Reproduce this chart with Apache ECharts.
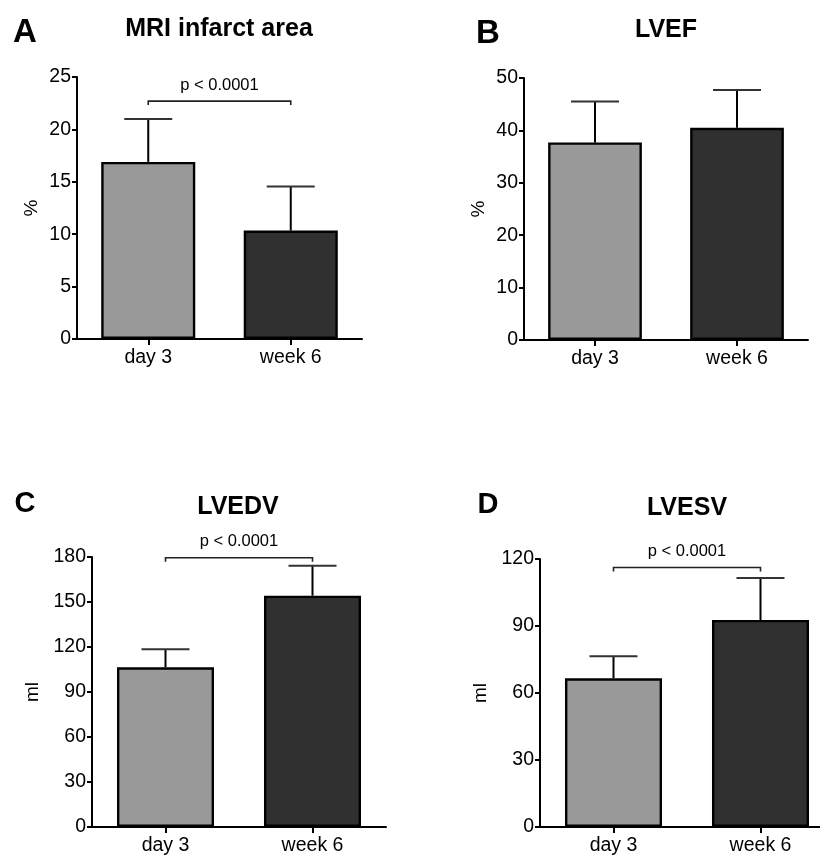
<!DOCTYPE html>
<html>
<head>
<meta charset="utf-8">
<script src="https://cdn.jsdelivr.net/npm/echarts@6/dist/echarts.min.js"></script>
<style>
  html, body { margin: 0; padding: 0; background: #fff; overflow: hidden; }
  /* a little wider than the window: panel D's axis runs off the right edge */
  #chart { width: 834px; height: 856px; }
</style>
</head>
<body>
<div id="chart"></div>
<script>
const FONT = 'Liberation Sans, Arial, Helvetica, sans-serif';

// categories and colours shared by all panels
const categories = ['day 3', 'week 6'];
const barColors = ['#999999', '#303030'];

// A: MRI infarct area (%)
const meanA = [16.9, 10.35];
const sdA = [4.1, 4.2];
// B: LVEF (%)
const meanB = [37.7, 40.5];
const sdB = [7.8, 7.2];
// C: LVEDV (ml)
const meanC = [106.5, 154.2];
const sdC = [12.0, 19.9];
// D: LVESV (ml)
const meanD = [66.6, 92.7];
const sdD = [9.9, 18.8];

// significance brackets: [from category, to category, level]
const bracketA = [[0, 1, 22.7]];
const bracketC = [[0, 1, 179.5]];
const bracketD = [[0, 1, 116.2]];
const pText = 'p < 0.0001';

const chart = echarts.init(document.getElementById('chart'));

// grid boxes in pixels
const grids = [
  { left: 77, top: 77, width: 285, height: 262 },
  { left: 524, top: 78, width: 284, height: 262 },
  { left: 92, top: 557, width: 294, height: 270 },
  { left: 540, top: 559, width: 294, height: 269 }
];

const yAxisDefs = [
  { max: 25, interval: 5, name: '%', gap: 36 },
  { max: 50, interval: 10, name: '%', gap: 36 },
  { max: 180, interval: 30, name: 'ml', gap: 50 },
  { max: 120, interval: 30, name: 'ml', gap: 50 }
];

const axisLine = { show: true, lineStyle: { color: '#000', width: 2 } };
const axisTick = { show: true, length: 5, lineStyle: { color: '#000', width: 2 } };

const xAxes = grids.map((g, i) => ({
  type: 'category',
  gridIndex: i,
  data: categories,
  axisLine: axisLine,
  axisTick: Object.assign({ alignWithLabel: true }, axisTick, { length: 6 }),
  axisLabel: { color: '#000', fontSize: 19.5, fontFamily: FONT, margin: 9 },
  splitLine: { show: false }
}));

const yAxes = yAxisDefs.map((d, i) => ({
  type: 'value',
  gridIndex: i,
  min: 0,
  max: d.max,
  interval: d.interval,
  name: d.name,
  nameLocation: 'middle',
  nameGap: d.gap,
  nameTextStyle: { color: '#000', fontSize: 19, fontFamily: FONT },
  axisLine: axisLine,
  axisTick: axisTick,
  axisLabel: { color: '#000', fontSize: 19.5, fontFamily: FONT, margin: 6 },
  splitLine: { show: false }
}));

function barSeries(i, means) {
  return {
    type: 'bar',
    xAxisIndex: i,
    yAxisIndex: i,
    barWidth: '66%',
    data: means.map((v, k) => ({
      value: v,
      itemStyle: { color: barColors[k] }
    })),
    itemStyle: { borderColor: '#000', borderWidth: 2.4 },
    silent: true,
    z: 2
  };
}

function errorSeries(i, means, sds) {
  return {
    type: 'custom',
    xAxisIndex: i,
    yAxisIndex: i,
    data: means.map((m, k) => [k, m, sds[k]]),
    renderItem: function (params, api) {
      const x = api.value(0);
      const m = api.value(1);
      const e = api.value(2);
      const base = api.coord([x, m]);
      const top = api.coord([x, m + e]);
      const half = 24;
      return {
        type: 'group',
        children: [
          { type: 'line', shape: { x1: base[0], y1: base[1], x2: top[0], y2: top[1] },
            style: { stroke: '#000', lineWidth: 2 } },
          { type: 'line', shape: { x1: top[0] - half, y1: top[1], x2: top[0] + half, y2: top[1] },
            style: { stroke: '#333', lineWidth: 2 } }
        ]
      };
    },
    silent: true,
    z: 1
  };
}

function bracketSeries(i, bracket) {
  return {
    type: 'custom',
    xAxisIndex: i,
    yAxisIndex: i,
    clip: false,
    data: bracket,
    renderItem: function (params, api) {
      const a = api.coord([api.value(0), api.value(2)]);
      const b = api.coord([api.value(1), api.value(2)]);
      return {
        type: 'group',
        children: [
          { type: 'polyline',
            shape: { points: [[a[0], a[1] + 4], [a[0], a[1]], [b[0], b[1]], [b[0], b[1] + 4]] },
            style: { stroke: '#222', lineWidth: 1.6, fill: null } },
          { type: 'text',
            style: { text: pText, x: (a[0] + b[0]) / 2, y: a[1] - 16,
              textAlign: 'center', textVerticalAlign: 'middle',
              font: '16.5px ' + FONT, fill: '#000' } }
        ]
      };
    },
    silent: true,
    z: 3
  };
}

function label(text, x, y, size) {
  return {
    type: 'text',
    x: x,
    y: y,
    style: { text: text, textAlign: 'center', textVerticalAlign: 'middle',
      font: 'bold ' + size + 'px ' + FONT, fill: '#000' }
  };
}

const option = {
  animation: false,
  backgroundColor: '#fff',
  grid: grids,
  xAxis: xAxes,
  yAxis: yAxes,
  graphic: [
    label('A', 25, 33, 33),
    label('B', 488, 34, 33),
    label('C', 25, 504, 29),
    label('D', 488, 505, 29),
    label('MRI infarct area', 219, 29, 25),
    label('LVEF', 666, 30, 25),
    label('LVEDV', 238, 507, 25),
    label('LVESV', 687, 508, 25)
  ],
  series: [
    barSeries(0, meanA), errorSeries(0, meanA, sdA), bracketSeries(0, bracketA),
    barSeries(1, meanB), errorSeries(1, meanB, sdB),
    barSeries(2, meanC), errorSeries(2, meanC, sdC), bracketSeries(2, bracketC),
    barSeries(3, meanD), errorSeries(3, meanD, sdD), bracketSeries(3, bracketD)
  ]
};

chart.setOption(option);

window.addEventListener('resize', () => chart.resize());
</script>
</body>
</html>
